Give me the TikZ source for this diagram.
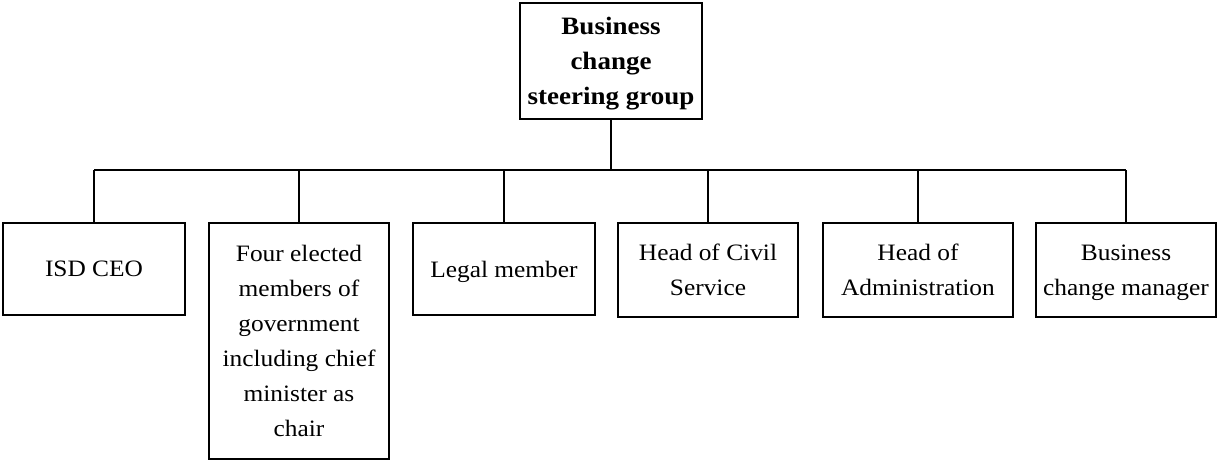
\documentclass[tikz,border=0pt]{standalone}
\usepackage{fontspec}
\setmainfont{Liberation Serif}[FakeStretch=1.08]
\begin{document}
\begin{tikzpicture}[x=1pt,y=-1pt,
  box/.style={draw, line width=2pt, rectangle, inner sep=0pt, align=center,
    text depth=0pt, font=\fontsize{23.5}{35}\selectfont},
  head/.style={box, font=\fontsize{25}{35}\selectfont\bfseries},
  link/.style={line width=2pt}]
\useasboundingbox (0,0) rectangle (1217,461);
% steering group at the top
\node[head, minimum width=182pt, minimum height=116pt] (top) at (611,61)
  {Business\\change\\steering group};
% members
\node[box, minimum width=182pt, minimum height=92pt] (isd) at (94,269) {ISD CEO};
\node[box, minimum width=180pt, minimum height=236pt] (four) at (299,341)
  {Four elected\\members of\\government\\including chief\\minister as\\chair};
\node[box, minimum width=182pt, minimum height=92pt] (legal) at (504,269) {Legal member};
\node[box, minimum width=180pt, minimum height=94pt] (civil) at (708,270) {Head of Civil\\Service};
\node[box, minimum width=190pt, minimum height=94pt] (admin) at (918,270) {Head of\\Administration};
\node[box, minimum width=180pt, minimum height=94pt] (bcm) at (1126,270) {Business\\change manager};
% horizontal bar under the steering group
\coordinate (bar) at (611,170);
\draw[link] (top.south) -- (bar);
\draw[link] (isd.north |- bar) -- (bcm.north |- bar);
\foreach \n in {isd,four,legal,civil,admin,bcm}
  \draw[link] (\n.north |- bar) -- (\n.north);
\end{tikzpicture}
\end{document}
